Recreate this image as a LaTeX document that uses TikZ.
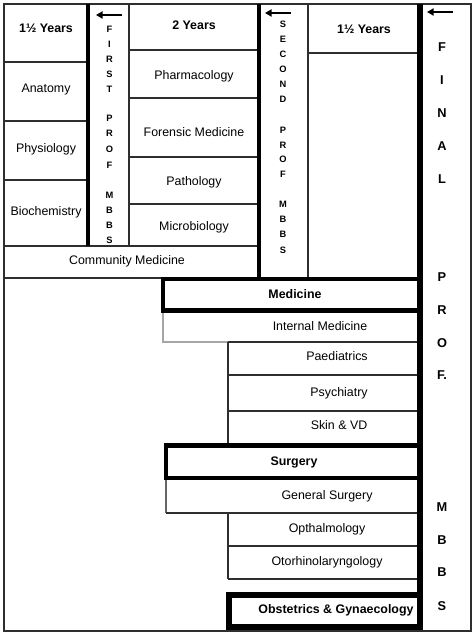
\documentclass[tikz,border=0pt]{standalone}
\usepackage{fontspec}
\setmainfont{Liberation Sans}
\usetikzlibrary{arrows.meta}
\begin{document}
\begin{tikzpicture}[x=1pt,y=-1pt,
  thinline/.style={draw=black!82, line width=1.1pt},
  grayline/.style={draw=black!35, line width=1.1pt},
  midline/.style={draw=black!60, line width=1.1pt},
  thickbar/.style={draw=black, line width=4.5pt},
  heavybox/.style={draw=black, line width=4.5pt},
  obsbox/.style={draw=black, line width=6pt},
  lbl/.style={font=\fontsize{12.4}{14}\selectfont, inner sep=0pt, text height=8.9pt, text depth=2.2pt},
  blbl/.style={font=\fontsize{12.4}{14}\selectfont\bfseries, inner sep=0pt, text height=8.9pt, text depth=2.2pt},
  vletter/.style={font=\fontsize{9.3}{10}\selectfont\bfseries, inner sep=0pt, text height=6.7pt, text depth=0pt},
  fletter/.style={font=\fontsize{12.8}{14}\selectfont\bfseries, inner sep=0pt, text height=9.2pt, text depth=0pt},
  larrow/.style={-{Triangle[length=6.5pt,width=7pt]}, line width=1.8pt}
]
\useasboundingbox (0,0) rectangle (474,634);
\fill[white] (0,0) rectangle (474,634);

% outer frame
\draw[thinline] (4,4) rectangle (471,631);

% first column (1 1/2 years)
\draw[thinline] (4,62) -- (88,62);
\draw[thinline] (4,121) -- (88,121);
\draw[thinline] (4,180) -- (88,180);
\draw[thinline] (129,4) -- (129,246);

% second column (2 years)
\draw[thinline] (129,50) -- (259,50);
\draw[thinline] (129,98) -- (259,98);
\draw[thinline] (129,157) -- (259,157);
\draw[thinline] (129,204) -- (259,204);

% community medicine
\draw[thinline] (4,246) -- (259,246);
\draw[thinline] (4,278) -- (163,278);

% third column
\draw[thinline] (308,4) -- (308,278);
\draw[thinline] (308,53) -- (420,53);

% clinical boxes
\draw[grayline] (163,310) -- (163,342) -- (228,342);
\draw[thinline] (228,342) -- (420,342);
\draw[thinline] (228,342) -- (228,444);
\draw[thinline] (228,375) -- (420,375);
\draw[thinline] (228,411) -- (420,411);
\draw[midline] (166,478) -- (166,513);
\draw[thinline] (166,513) -- (420,513);
\draw[thinline] (228,513) -- (228,579);
\draw[thinline] (228,546) -- (420,546);
\draw[thinline] (228,579) -- (420,579);

% thick bars
\draw[thickbar, line width=4pt] (88,4) -- (88,246);
\draw[thickbar, line width=4pt] (259,4) -- (259,280);
\draw[heavybox] (163,279) rectangle (420,310.5);
\draw[heavybox] (166,445.5) rectangle (420,478);
\draw[obsbox] (229,595) rectangle (420,626.5);
\draw[thickbar, line width=5.5pt] (420,4) -- (420,629.5);

% arrows
\coordinate (a1s) at (122,15); \coordinate (a1e) at (96,15);
\coordinate (a2s) at (291,13); \coordinate (a2e) at (265,13);
\coordinate (a3s) at (453,12); \coordinate (a3e) at (427,12);
\draw[larrow] (a1s) -- (a1e);
\draw[larrow] (a2s) -- (a2e);
\draw[larrow] (a3s) -- (a3e);

% labels
\node[blbl] (y1) at (46,29) {1½ Years};
\node[lbl] (anat) at (46,89) {Anatomy};
\node[lbl] (phys) at (46,149) {Physiology};
\node[lbl] (bioc) at (46,212) {Biochemistry};
\node[blbl] (y2) at (194,26) {2 Years};
\node[lbl] (phar) at (194,76) {Pharmacology};
\node[lbl] (fore) at (194,133) {Forensic Medicine};
\node[lbl] (path) at (194,182) {Pathology};
\node[lbl] (micr) at (194,227) {Microbiology};
\node[lbl] (comm) at (127,261) {Community Medicine};
\node[blbl] (y3) at (364,30) {1½ Years};
\node[blbl] (med) at (295,295) {Medicine};
\node[lbl] (intm) at (320,327) {Internal Medicine};
\node[lbl] (paed) at (337,357) {Paediatrics};
\node[lbl] (psyc) at (339,393) {Psychiatry};
\node[lbl] (skin) at (339,426) {Skin \& VD};
\node[blbl] (surg) at (294,462) {Surgery};
\node[lbl] (gens) at (327,496) {General Surgery};
\node[lbl] (opth) at (327,529) {Opthalmology};
\node[lbl] (otor) at (327,562) {Otorhinolaryngology};
\node[blbl] (obst) at (336,610) {Obstetrics \& Gynaecology};

% first prof letters
\foreach \ch/\yy [count=\i] in {F/29,I/44,R/59,S/74,T/89,P/118,R/133,O/149,F/165,M/195,B/210,B/225,S/240}
  \node[vletter] (fp\i) at (109.5,\yy) {\ch};
% second prof letters
\foreach \ch/\yy [count=\i] in {S/24,E/39,C/54,O/69,N/84,D/99,P/130,R/145,O/159,F/174,M/204,B/219,B/234,S/250}
  \node[vletter] (sp\i) at (283,\yy) {\ch};
% final prof letters
\foreach \ch/\yy [count=\i] in {F/47,I/80,N/113,A/146,L/179,P/277,R/310,O/343,F./375,M/507,B/540,B/572,S/606}
  \node[fletter] (fn\i) at (442,\yy) {\ch};
\end{tikzpicture}
\end{document}
